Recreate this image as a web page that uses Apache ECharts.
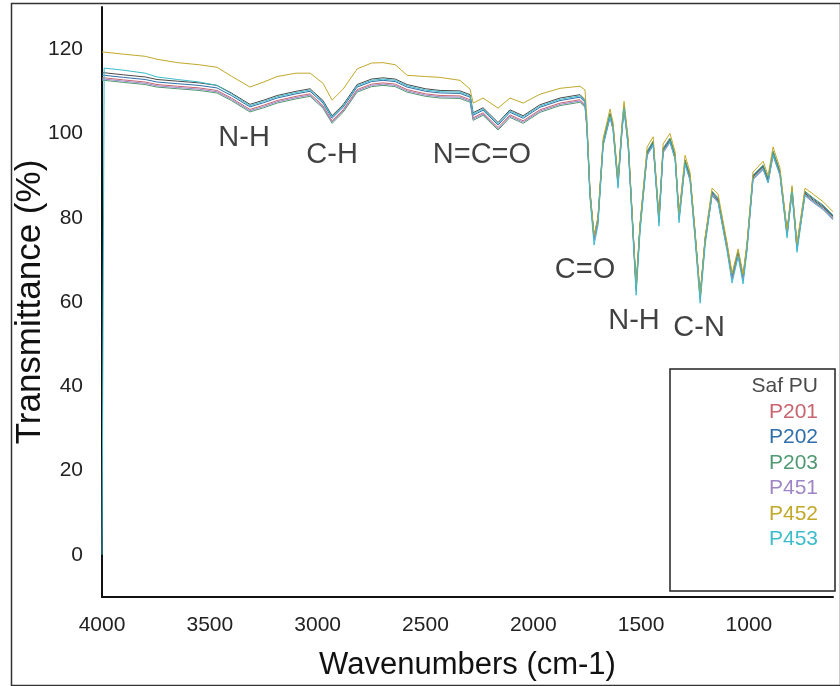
<!DOCTYPE html>
<html>
<head>
<meta charset="utf-8">
<title>FTIR spectra</title>
<script src="https://cdn.jsdelivr.net/npm/echarts@6.0.0/dist/echarts.min.js"></script>
<style>
  html, body { margin: 0; padding: 0; background: #fff; }
  #chart { width: 840px; height: 686px; }
</style>
</head>
<body>
<div id="chart"></div>
<script>
// wavenumber (cm-1) of every sampled point, shared by all spectra
var wavenumbers = [4000, 3990, 3900, 3800, 3745, 3650, 3550, 3467, 3400, 3314,
  3250, 3188, 3100, 3035, 2975, 2933, 2882, 2817, 2750, 2697,
  2640, 2585, 2500, 2432, 2340, 2293, 2279, 2233, 2163, 2108,
  2047, 1969, 1876, 1783, 1760, 1751, 1737, 1718, 1700, 1676,
  1644, 1630, 1607, 1588, 1579, 1560, 1523, 1505, 1472, 1444,
  1417, 1398, 1366, 1342, 1324, 1296, 1273, 1250, 1226, 1203,
  1171, 1143, 1101, 1078, 1050, 1027, 1009, 981, 934, 911,
  888, 856, 823, 800, 777, 740, 702, 656, 610];

// transmittance (%)
var safPU = [114.4, 114.4, 113.9, 113.4, 112.8, 112.4, 112.0, 111.4, 109.6, 106.9,
  107.9, 109.0, 110.0, 110.6, 107.8, 104.2, 106.8, 111.6, 112.9, 113.2,
  112.9, 111.6, 110.6, 110.2, 110.1, 109.2, 104.9, 106.1, 102.6, 105.6,
  104.2, 106.8, 108.4, 109.2, 108.0, 101.5, 85.8, 75.2, 79.4, 97.7,
  104.3, 101.5, 88.2, 101.5, 106.2, 97.7, 63.3, 77.8, 95.3, 97.7,
  79.4, 96.0, 98.4, 94.4, 80.1, 93.2, 89.6, 76.3, 61.2, 74.7,
  85.8, 84.2, 73.0, 65.9, 71.6, 65.7, 73.0, 89.6, 92.0, 88.9,
  95.3, 90.6, 76.3, 86.5, 73.0, 85.8, 84.2, 82.5, 80.1];
var p201 = [113.2, 113.2, 112.7, 112.2, 111.6, 111.2, 110.8, 110.2, 108.4, 105.7,
  106.7, 107.8, 108.8, 109.4, 106.6, 103.0, 105.6, 110.4, 111.7, 112.0,
  111.7, 110.4, 109.4, 109.0, 108.9, 108.0, 103.7, 104.9, 101.4, 104.4,
  103.0, 105.6, 107.2, 108.0, 106.8, 101.2, 85.5, 74.9, 79.1, 97.4,
  104.0, 101.2, 87.9, 101.2, 105.9, 97.4, 63.0, 77.5, 95.0, 97.4,
  79.1, 95.7, 98.1, 94.1, 79.8, 92.9, 89.3, 76.0, 60.9, 74.4,
  85.5, 83.9, 72.7, 65.6, 71.3, 65.4, 72.7, 89.3, 91.7, 88.6,
  95.0, 90.3, 76.0, 86.2, 72.7, 85.5, 83.9, 82.2, 79.8];
var p202 = [113.8, 113.8, 113.3, 112.8, 112.2, 111.8, 111.4, 110.8, 109.0, 106.3,
  107.3, 108.4, 109.4, 110.0, 107.2, 103.6, 106.2, 111.0, 112.3, 112.6,
  112.3, 111.0, 110.0, 109.6, 109.5, 108.6, 104.3, 105.5, 102.0, 105.0,
  103.6, 106.2, 107.8, 108.6, 107.4, 101.8, 86.1, 75.5, 79.7, 98.0,
  104.6, 101.8, 88.5, 101.8, 106.5, 98.0, 63.6, 78.1, 95.6, 98.0,
  79.7, 96.3, 98.7, 94.7, 80.4, 93.5, 89.9, 76.6, 61.5, 75.0,
  86.1, 84.5, 73.3, 66.2, 71.9, 66.0, 73.3, 89.9, 92.3, 89.2,
  95.6, 90.9, 76.6, 86.8, 73.3, 86.1, 84.5, 82.8, 80.4];
var p203 = [112.6, 112.6, 112.1, 111.6, 111.0, 110.6, 110.2, 109.6, 107.8, 105.1,
  106.1, 107.2, 108.2, 108.8, 106.0, 102.4, 105.0, 109.8, 111.1, 111.4,
  111.1, 109.8, 108.8, 108.4, 108.3, 107.4, 103.1, 104.3, 100.8, 103.8,
  102.4, 105.0, 106.6, 107.4, 106.2, 102.0, 86.3, 75.7, 79.9, 98.2,
  104.8, 102.0, 88.7, 102.0, 106.7, 98.2, 63.8, 78.3, 95.8, 98.2,
  79.9, 96.5, 98.9, 94.9, 80.6, 93.7, 90.1, 76.8, 61.7, 75.2,
  86.3, 84.7, 73.5, 66.4, 72.1, 66.2, 73.5, 90.1, 92.5, 89.4,
  95.8, 91.1, 76.8, 87.0, 73.5, 86.3, 84.7, 83.0, 80.6];
var p451 = [112.9, 112.9, 112.4, 111.9, 111.3, 110.9, 110.5, 109.9, 108.1, 105.4,
  106.4, 107.5, 108.5, 109.1, 106.3, 102.7, 105.3, 110.1, 111.4, 111.7,
  111.4, 110.1, 109.1, 108.7, 108.6, 107.7, 103.4, 104.6, 101.1, 104.1,
  102.7, 105.3, 106.9, 107.7, 106.5, 100.9, 85.2, 74.6, 78.8, 97.1,
  103.7, 100.9, 87.6, 100.9, 105.6, 97.1, 62.7, 77.2, 94.7, 97.1,
  78.8, 95.4, 97.8, 93.8, 79.5, 92.6, 89.0, 75.7, 60.6, 74.1,
  85.2, 83.6, 72.4, 65.3, 71.0, 65.1, 72.4, 89.0, 91.4, 88.3,
  94.7, 90.0, 75.7, 85.9, 72.4, 85.2, 83.6, 81.9, 79.5];
var p452 = [119.3, 119.3, 118.8, 118.3, 117.6, 116.8, 116.3, 115.7, 113.6, 111.0,
  112.2, 113.5, 114.3, 114.3, 111.9, 107.9, 110.5, 115.3, 116.7, 116.8,
  116.3, 113.8, 113.5, 113.3, 112.6, 110.5, 107.2, 108.4, 106.0, 108.4,
  107.2, 109.3, 110.7, 111.2, 110.3, 103.5, 86.5, 75.8, 80.2, 98.8,
  105.8, 102.6, 89.0, 102.8, 107.6, 98.8, 63.8, 78.6, 96.8, 99.2,
  80.0, 97.5, 100.0, 95.6, 80.8, 94.8, 90.8, 77.0, 61.6, 75.4,
  87.0, 85.6, 74.0, 66.8, 72.6, 66.6, 74.0, 90.8, 93.4, 90.0,
  96.8, 91.8, 77.0, 87.6, 73.8, 87.0, 85.6, 83.8, 81.4];
var p453 = [0, 115.5, 115.0, 114.3, 113.4, 112.8, 112.2, 111.4, 109.4, 106.6,
  107.6, 108.7, 109.7, 110.3, 107.5, 103.9, 106.5, 111.3, 112.6, 112.9,
  112.6, 111.3, 110.3, 109.9, 109.8, 108.9, 104.6, 105.8, 102.3, 105.3,
  103.9, 106.5, 108.1, 108.9, 107.7, 101.0, 84.8, 73.5, 78.2, 97.2,
  104.0, 100.8, 87.0, 101.0, 105.9, 96.9, 61.6, 76.5, 95.0, 97.4,
  78.0, 95.7, 98.1, 93.9, 78.8, 92.8, 88.8, 75.0, 59.7, 73.5,
  85.4, 83.7, 72.0, 64.5, 70.8, 64.3, 72.0, 89.2, 91.6, 88.3,
  95.0, 90.2, 75.2, 86.1, 71.8, 85.4, 83.8, 82.1, 79.7];

var seriesNames = ['Saf PU', 'P201', 'P202', 'P203', 'P451', 'P452', 'P453'];
var seriesValues = [safPU, p201, p202, p203, p451, p452, p453];
var seriesColors = ['#4a4a4a', '#c8646e', '#2f6ea8', '#4f9a72', '#9e86c6', '#c2a829', '#3cbccc'];

// band labels placed at (wavenumber, transmittance)
var bandLabels = ['N-H', 'C-H', 'N=C=O', 'C=O', 'N-H', 'C-N'];
var bandWn = [3341, 2933, 2238, 1760, 1533, 1231];
var bandT = [98.9, 94.8, 94.8, 67.6, 55.6, 53.9];

var xTicks = [4000, 3500, 3000, 2500, 2000, 1500, 1000];
var yTicks = [0, 20, 40, 60, 80, 100, 120];

var FONT = '"Liberation Sans", Arial, sans-serif';

var chart = echarts.init(document.getElementById('chart'));

var series = seriesNames.map(function (name, k) {
  return {
    name: name,
    type: 'line',
    data: wavenumbers.map(function (w, i) { return [w, seriesValues[k][i]]; }),
    showSymbol: false,
    symbol: 'none',
    lineStyle: { width: 1, color: seriesColors[k] },
    itemStyle: { color: seriesColors[k] },
    z: 2 + k,
    silent: true
  };
});

series.push({
  name: 'bands',
  type: 'scatter',
  symbolSize: 0,
  silent: true,
  z: 20,
  data: bandLabels.map(function (t, i) { return { name: t, value: [bandWn[i], bandT[i]] }; }),
  label: {
    show: true,
    position: 'inside',
    formatter: '{b}',
    color: '#111',
    fontSize: 29,
    fontFamily: FONT
  }
});

var rich = {};
seriesColors.forEach(function (c, k) {
  rich['s' + k] = { color: c, width: 80, align: 'right', fontSize: 21, fontFamily: FONT };
});

chart.setOption({
  backgroundColor: '#fff',
  animation: false,
  grid: { left: 102, right: 7, top: 7, bottom: 89, outerBoundsMode: 'none' },
  xAxis: {
    type: 'value',
    inverse: true,
    min: 610,
    max: 4000,
    name: 'Wavenumbers (cm-1)',
    nameLocation: 'middle',
    nameGap: 53,
    nameTextStyle: { fontSize: 31, color: '#111', fontFamily: FONT },
    axisLine: { onZero: false, lineStyle: { color: '#111', width: 2 } },
    axisTick: { show: false },
    splitLine: { show: false },
    axisLabel: {
      customValues: xTicks,
      formatter: function (v) { return String(v); },
      margin: 18,
      fontSize: 21,
      color: '#222',
      fontFamily: FONT
    }
  },
  yAxis: {
    type: 'value',
    min: -10,
    max: 130,
    name: 'Transmittance (%)',
    nameLocation: 'middle',
    nameGap: 54,
    nameMoveOverlap: false,
    nameTextStyle: { fontSize: 35, color: '#111', fontFamily: FONT },
    axisLine: { show: true, onZero: false, lineStyle: { color: '#111', width: 2 } },
    axisTick: { show: false },
    splitLine: { show: false },
    axisLabel: {
      customValues: yTicks,
      margin: 19,
      fontSize: 21,
      color: '#222',
      fontFamily: FONT
    }
  },
  legend: {
    data: seriesNames,
    orient: 'vertical',
    left: 670,
    top: 369,
    icon: 'rect',
    itemWidth: 0,
    itemHeight: 0,
    itemGap: 4.5,
    padding: [7, 17, 41, 63],
    borderColor: '#222',
    borderWidth: 1.5,
    selectedMode: false,
    formatter: function (name) {
      return '{s' + seriesNames.indexOf(name) + '|' + name + '}';
    },
    textStyle: { fontSize: 21, fontFamily: FONT, rich: rich }
  },
  graphic: [{
    type: 'rect',
    left: 9,
    top: 1,
    shape: { width: 829, height: 682 },
    style: { fill: 'none', stroke: '#333', lineWidth: 1.5 },
    silent: true,
    z: 0
  }],
  series: series
});
</script>
</body>
</html>
